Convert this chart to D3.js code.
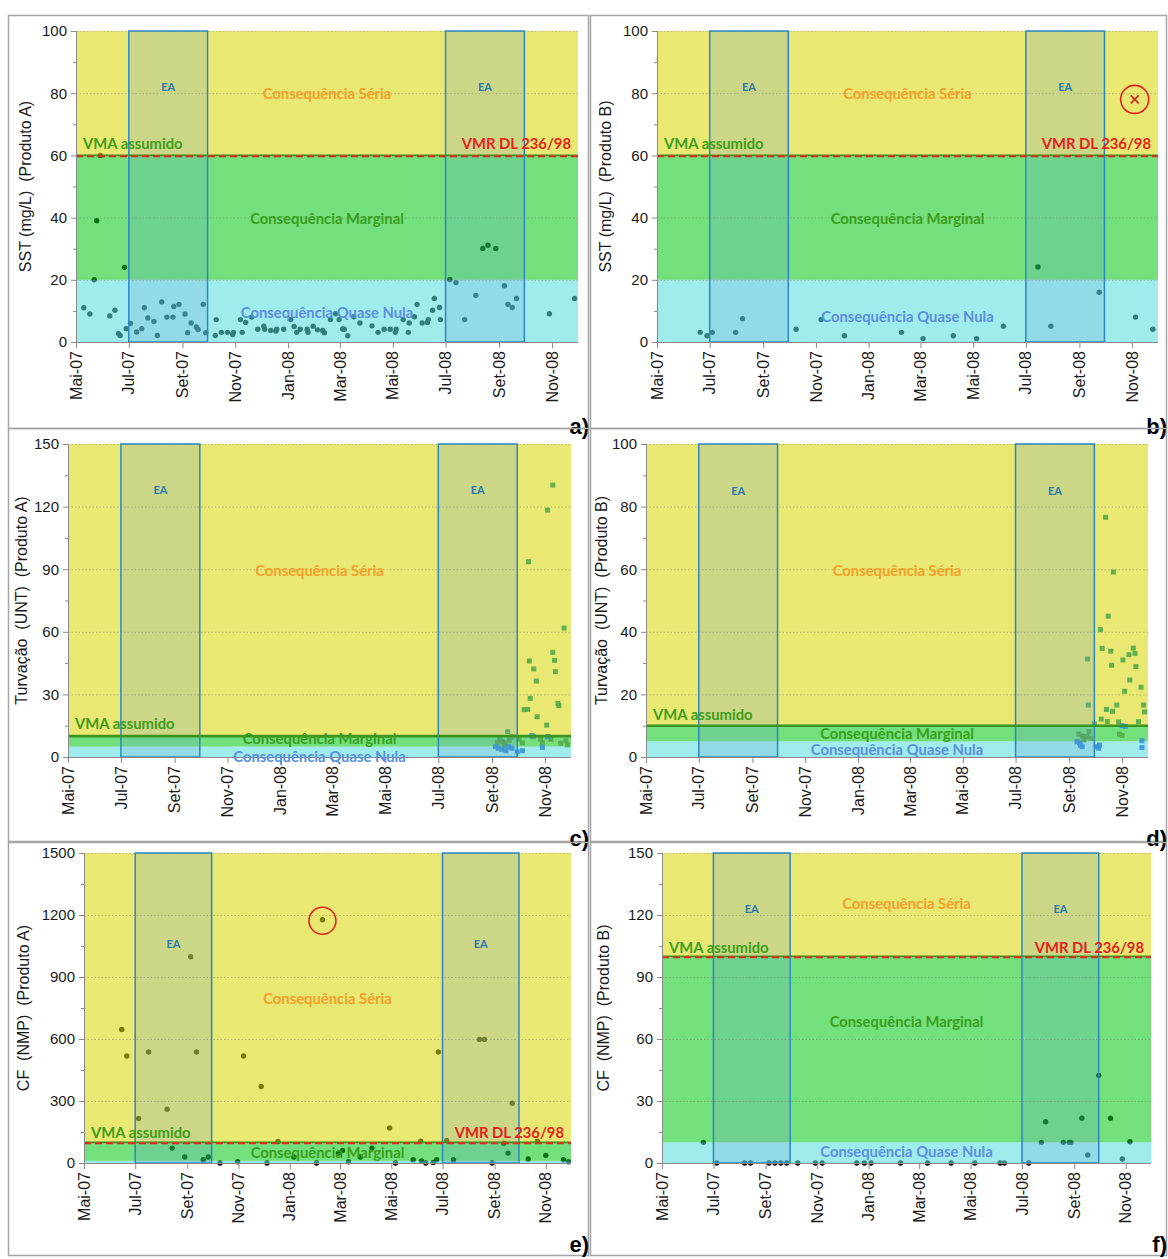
<!DOCTYPE html>
<html><head><meta charset="utf-8">
<script src="https://cdn.jsdelivr.net/npm/d3@7"></script>
<style>body{margin:0;background:#fff}svg{display:block}text{white-space:pre}</style>
</head><body>
<svg id="chart" width="1168" height="1259"></svg>
<script>
// ---------------- DATA ----------------
const tickDates  = ["2007-05-01","2007-07-01","2007-09-01","2007-11-01","2008-01-01","2008-03-01","2008-05-01","2008-07-01","2008-09-01","2008-11-01"];
const tickLabels = ["Mai-07","Jul-07","Set-07","Nov-07","Jan-08","Mar-08","Mai-08","Jul-08","Set-08","Nov-08"];
const eaStart = ["2007-07-01","2008-07-01"];
const eaEnd   = ["2007-09-30","2008-09-30"];
const zoneNames = ["Consequência Séria","Consequência Marginal","Consequência Quase Nula"];

const ticksSST  = [0,20,40,60,80,100];
const ticksTurbA = [0,30,60,90,120,150];
const ticksTurbB = [0,20,40,60,80,100];
const ticksCFA  = [0,300,600,900,1200,1500];
const ticksCFB  = [0,30,60,90,120,150];

const limitsSST  = [20,60];   // Quase Nula / Marginal / Séria
const limitsTurb = [5,10];
const limitsCF   = [10,100];

// a) SST Produto A
const sstA_dates = ["2007-05-10","2007-05-17","2007-05-22","2007-05-25","2007-05-29","2007-06-09","2007-06-15","2007-06-19","2007-06-21","2007-06-26","2007-06-28","2007-07-03","2007-07-10","2007-07-16","2007-07-19","2007-07-23","2007-07-30","2007-08-03","2007-08-08","2007-08-14","2007-08-21","2007-08-22","2007-08-28","2007-09-04","2007-09-07","2007-09-11","2007-09-17","2007-09-19","2007-09-25","2007-09-28","2007-10-09","2007-10-10","2007-10-16","2007-10-23","2007-10-29","2007-10-30","2007-11-07","2007-11-09","2007-11-13","2007-11-20","2007-11-27","2007-12-04","2007-12-05","2007-12-12","2007-12-18","2007-12-19","2007-12-27","2008-01-04","2008-01-08","2008-01-11","2008-01-15","2008-01-23","2008-01-24","2008-01-30","2008-02-04","2008-02-10","2008-02-12","2008-02-19","2008-02-25","2008-02-29","2008-03-04","2008-03-06","2008-03-10","2008-03-17","2008-03-24","2008-04-07","2008-04-14","2008-04-21","2008-04-28","2008-05-04","2008-05-05","2008-05-13","2008-05-19","2008-05-20","2008-05-26","2008-05-29","2008-06-04","2008-06-10","2008-06-11","2008-06-16","2008-06-18","2008-06-24","2008-06-25","2008-07-06","2008-07-13","2008-07-23","2008-08-05","2008-08-13","2008-08-19","2008-08-28","2008-09-07","2008-09-11","2008-09-16","2008-09-21","2008-10-29","2008-11-27"];
const sstA_values = [11,9,20,39,60,8.4,10.2,2.7,2.1,24,4.3,6,3.2,4.3,11,7.7,6.6,2.1,12.9,8,8,11.4,12.1,9,3,6.1,4.8,4,12.1,3,2.1,7.2,3.1,3.1,2.4,3.1,7.2,3.1,6.3,8,4.1,5.1,4.1,3.7,3.5,4.1,4.1,7.2,5,3.1,4.1,4.1,3.1,5.1,3.9,3.7,3,7.2,9.1,7.2,4.2,4.1,2,8.1,6.1,5.2,3.1,4.1,4.1,3.1,4.1,7.2,3.1,6.1,8.1,12.1,6.1,6.3,7.2,10.2,14,11.1,7.2,20.1,19.1,7.2,15,30.1,31.1,30.1,18.1,12.1,11.1,14,9.1,14];

// b) SST Produto B
const sstB_dates = ["2007-06-20","2007-06-28","2007-07-04","2007-07-31","2007-08-08","2007-10-09","2007-11-07","2007-12-04","2008-02-08","2008-03-04","2008-04-08","2008-05-05","2008-06-05","2008-07-15","2008-07-30","2008-09-24","2008-11-05","2008-11-25"];
const sstB_values = [3.1,2,3.1,3.1,7.5,4.1,7.2,2,3.1,1.1,2,1.1,5.1,24.1,5.1,16,8,4.1];
const sstB_outlierDate = ["2008-11-04"];
const sstB_outlierValue = [78];

// c) Turvação Produto A (two square series)
const turbA_g_dates = ["2008-11-10","2008-11-04","2008-10-13","2008-11-23","2008-11-10","2008-10-14","2008-11-12","2008-10-19","2008-11-13","2008-10-22","2008-10-15","2008-10-08","2008-10-12","2008-11-16","2008-11-17","2008-10-23","2008-11-03","2008-09-19","2008-09-10","2008-09-13","2008-09-16","2008-09-24","2008-10-02","2008-10-06","2008-10-17","2008-10-19","2008-10-27","2008-10-29","2008-11-05","2008-11-08","2008-11-19","2008-11-25","2008-11-27","2008-09-07","2008-09-15","2008-09-21"];
const turbA_g_values = [130.3,118.3,93.6,61.8,50.2,46,46.3,42.2,40.9,36.4,28.1,22.7,22.8,25.7,24.6,19.3,15.3,12.1,8.5,7.3,6.6,9.7,8.5,6.8,10.2,9.7,8.5,6.8,9.7,8.5,6.6,7.8,5.8,7,5.5,8];
const turbA_b_dates = ["2008-09-12","2008-09-20","2008-09-24","2008-09-30","2008-10-06","2008-10-17","2008-10-29","2008-11-04","2008-09-05","2008-09-08","2008-09-17"];
const turbA_b_values = [3.7,4.9,4.2,2.5,3.0,10,4.6,9.7,5,4.2,3];

// d) Turvação Produto B
const turbB_g_dates = ["2008-10-13","2008-10-22","2008-10-16","2008-10-07","2008-09-22","2008-10-09","2008-10-19","2008-10-20","2008-11-02","2008-11-09","2008-11-14","2008-11-16","2008-11-17","2008-11-10","2008-11-04","2008-11-23","2008-09-23","2008-11-26","2008-11-27","2008-10-14","2008-10-21","2008-10-26","2008-10-08","2008-10-15","2008-09-30","2008-10-28","2008-11-20","2008-09-12","2008-09-16","2008-09-21","2008-09-24","2008-10-29","2008-11-01","2008-09-18","2008-09-26"];
const turbB_g_values = [76.6,59.1,45,40.7,31.3,34.7,33.8,29.3,31,32.7,34.8,33.1,28.9,24.6,21,22.3,16.6,16.6,14.4,15.2,14.6,16.6,12.1,11.3,10.6,11.2,11.3,7.3,6.7,6.5,8.1,7.3,6.9,5.5,6];
const turbB_b_dates = ["2008-09-10","2008-09-14","2008-09-16","2008-10-03","2008-10-06","2008-10-05","2008-11-24","2008-11-24","2008-11-01","2008-11-05","2008-09-13"];
const turbB_b_values = [4.9,3.8,3.3,3.3,3.8,2.8,5.2,3,10,9.8,4.5];

// e) CF Produto A
const cfA_dates = ["2007-06-15","2007-06-21","2007-07-05","2007-07-17","2007-08-08","2007-08-14","2007-08-29","2007-09-05","2007-09-12","2007-09-20","2007-09-26","2007-10-10","2007-10-31","2007-11-07","2007-11-28","2007-12-05","2007-12-18","2008-01-06","2008-02-02","2008-02-09","2008-02-28","2008-03-04","2008-03-11","2008-03-25","2008-04-08","2008-04-29","2008-05-06","2008-05-27","2008-06-05","2008-06-06","2008-06-11","2008-06-20","2008-06-24","2008-06-26","2008-07-06","2008-07-14","2008-08-14","2008-08-20","2008-08-29","2008-09-12","2008-09-17","2008-09-22","2008-10-11","2008-10-22","2008-11-01","2008-11-22","2008-11-28"];
const cfA_values = [646,518,215,537,260,72,29,998,537,16,29,0,6,518,370,0,104,29,0,1177,48,61,6,29,72,169,0,16,106,10,0,3,16,537,109,16,598,598,0,96,48,289,19,106,37,16,6];
const cfA_circledDate = ["2008-02-09"];
const cfA_circledValue = [1177];

// f) CF Produto B
const cfB_dates = ["2007-06-19","2007-07-05","2007-08-07","2007-08-14","2007-09-05","2007-09-12","2007-09-19","2007-09-26","2007-10-09","2007-10-30","2007-11-07","2007-12-18","2007-12-27","2008-01-04","2008-02-08","2008-03-11","2008-04-08","2008-05-06","2008-06-05","2008-06-10","2008-07-09","2008-07-24","2008-07-29","2008-08-19","2008-08-26","2008-08-28","2008-09-10","2008-09-17","2008-09-30","2008-10-14","2008-10-28","2008-11-06"];
const cfB_values = [10,0,0,0,0,0,0,0,0,0,0,0,0,0,0,0,0,0,0,0,0,10,20,10,10,10,21.7,3.9,42.4,21.7,1.9,10.3];

// ---------------- DRAWING ----------------
const parse = d3.timeParse("%Y-%m-%d");
const xDomain = [parse("2007-05-01"), parse("2008-12-01")];
const svg = d3.select("#chart");
const AX = "'Liberation Sans', Arial, sans-serif";
const AN = "Lato, 'Open Sans', sans-serif";
const ANS = "14.8px";

const panels = [
  {tag:"a)", tagY:434, box:[8,15,588,428], plot:[76,31,578,342], ticks:ticksSST, limits:limitsSST, title:"SST (mg/L)  (Produto A)", titleX:31,
   dots:[sstA_dates,sstA_values], vmr:true, lab:{seria:80, marg:40, nula:9.5, ea:82, vma:64}},
  {tag:"b)", tagY:434, box:[590,15,1166,428], plot:[657,31,1158,342], ticks:ticksSST, limits:limitsSST, title:"SST (mg/L)  (Produto B)", titleX:611,
   dots:[sstB_dates,sstB_values], vmr:true, lab:{seria:80, marg:40, nula:8.4, ea:82, vma:64},
   crossed:[sstB_outlierDate,sstB_outlierValue]},
  {tag:"c)", tagY:846, box:[8,428,588,841], plot:[68,444,571,757], ticks:ticksTurbA, limits:limitsTurb, title:"Turvação  (UNT)  (Produto A)", titleX:27,
   squares:[[turbA_g_dates,turbA_g_values],[turbA_b_dates,turbA_b_values]], vmr:false, lab:{seria:89.6, marg:9.0, nula:0.6, ea:128, vma:16.4}},
  {tag:"d)", tagY:846, box:[590,428,1166,841], plot:[646,444,1148,757], ticks:ticksTurbB, limits:limitsTurb, title:"Turvação  (UNT)  (Produto B)", titleX:607,
   squares:[[turbB_g_dates,turbB_g_values],[turbB_b_dates,turbB_b_values]], vmr:false, lab:{seria:59.7, marg:7.8, nula:2.5, ea:85.3, vma:13.7}},
  {tag:"e)", tagY:1252, box:[8,842,588,1255], plot:[84,853,571,1163], ticks:ticksCFA, limits:limitsCF, title:"CF  (NMP)  (Produto A)", titleX:29,
   dots:[cfA_dates,cfA_values], vmr:true, lab:{seria:798, marg:53, nula:null, ea:1060, vma:150},
   circled:[cfA_circledDate,cfA_circledValue]},
  {tag:"f)", tagY:1252, box:[590,842,1166,1255], plot:[662,853,1151,1163], ticks:ticksCFB, limits:limitsCF, title:"CF  (NMP)  (Produto B)", titleX:609,
   dots:[cfB_dates,cfB_values], vmr:true, lab:{seria:126, marg:68.7, nula:5.8, ea:123, vma:104.5}}
];

function drawPanel(p){
  const g = svg.append("g");
  const [L,T,R,B] = p.plot;
  const yMax = p.ticks[p.ticks.length-1];
  const x = d3.scaleTime().domain(xDomain).range([L,R]);
  const y = d3.scaleLinear().domain([0,yMax]).range([B,T]);
  const [bx0,by0,bx1,by1] = p.box;

  // panel frame
  g.append("rect").attr("x",bx0+0.5).attr("y",by0+0.5).attr("width",bx1-bx0).attr("height",by1-by0)
    .attr("fill","none").attr("stroke","#a5a5a5").attr("stroke-width",1.5);

  // circle markers drawn first (zones are translucent on top)
  if (p.dots){
    g.append("g").selectAll("circle").data(d3.zip(p.dots[0],p.dots[1])).join("circle")
      .attr("cx",d=>x(parse(d[0]))).attr("cy",d=>y(d[1])).attr("r",2.7).attr("fill","#0a0f0a");
  }

  // consequence zones
  const zones = [[0,p.limits[0],"#52dcdc"],[p.limits[0],p.limits[1],"#00c713"],[p.limits[1],yMax,"#d5d500"]];
  g.append("g").selectAll("rect").data(zones).join("rect")
    .attr("x",L).attr("width",R-L).attr("y",d=>y(d[1])).attr("height",d=>y(d[0])-y(d[1]))
    .attr("fill",d=>d[2]).attr("opacity",0.55);

  // gridlines
  g.append("g").selectAll("line").data(p.ticks.filter(v=>v>0)).join("line")
    .attr("x1",L).attr("x2",R).attr("y1",d=>y(d)+0.5).attr("y2",d=>y(d)+0.5)
    .attr("stroke","#6e6e50").attr("stroke-opacity",0.4).attr("stroke-width",1).attr("stroke-dasharray","1.5,2");

  // square markers
  if (p.squares){
    const cols = ["#55ab4c","#3796d6"];
    p.squares.forEach((s,i)=>{
      g.append("g").selectAll("rect").data(d3.zip(s[0],s[1])).join("rect")
        .attr("x",d=>x(parse(d[0]))-2.5).attr("y",d=>y(d[1])-2.5).attr("width",5).attr("height",5)
        .attr("fill",cols[i]).attr("opacity",0.92);
    });
  }

  // EA boxes
  const ea = d3.zip(eaStart,eaEnd);
  g.append("g").selectAll("rect").data(ea).join("rect")
    .attr("x",d=>x(parse(d[0]))).attr("width",d=>x(parse(d[1]))-x(parse(d[0])))
    .attr("y",y(yMax)).attr("height",y(0)-y(yMax))
    .attr("fill","rgb(90,150,210)").attr("fill-opacity",0.2)
    .attr("stroke","#2d86c4").attr("stroke-width",1.5);
  g.append("g").selectAll("text").data(ea).join("text")
    .attr("x",d=>(x(parse(d[0]))+x(parse(d[1])))/2).attr("y",y(p.lab.ea))
    .attr("text-anchor","middle").attr("dominant-baseline","central")
    .style("font-family",AN).style("font-weight","bold").style("font-size","11px").attr("fill","#2a78b0").text("EA");

  // limit lines
  const yl = y(p.limits[1]);
  g.append("line").attr("x1",L).attr("x2",R).attr("y1",yl).attr("y2",yl)
    .attr("stroke","#3a9420").attr("stroke-width",p.vmr?1.6:2.6);
  if (p.vmr){
    g.append("line").attr("x1",L).attr("x2",R).attr("y1",yl+0.8).attr("y2",yl+0.8)
      .attr("stroke","#e4281c").attr("stroke-width",2).attr("stroke-dasharray","7,4");
  }

  // axes
  const axCol = "#8a8a8a";
  g.append("line").attr("x1",L).attr("x2",R).attr("y1",B+0.5).attr("y2",B+0.5).attr("stroke",axCol);
  g.append("line").attr("x1",L+0.5).attr("x2",L+0.5).attr("y1",T).attr("y2",B).attr("stroke",axCol);
  const xt = d3.zip(tickDates,tickLabels);
  g.append("g").selectAll("line").data(xt).join("line")
    .attr("x1",d=>x(parse(d[0]))+0.5).attr("x2",d=>x(parse(d[0]))+0.5).attr("y1",B).attr("y2",B+6).attr("stroke",axCol);
  g.append("g").selectAll("text").data(xt).join("text")
    .attr("transform",d=>`translate(${x(parse(d[0]))},${B+9}) rotate(-90)`)
    .attr("text-anchor","end").attr("dy","0.35em")
    .style("font-family",AX).style("font-size","16px").attr("fill","#1a1a1a").text(d=>d[1]);
  const step = p.ticks[1]-p.ticks[0];
  const minor = p.ticks.slice(0,-1).map(v=>v+step/2);
  g.append("g").selectAll("line").data(minor).join("line")
    .attr("x1",L-3).attr("x2",L).attr("y1",d=>y(d)+0.5).attr("y2",d=>y(d)+0.5).attr("stroke",axCol);
  g.append("g").selectAll("line").data(p.ticks).join("line")
    .attr("x1",L-5).attr("x2",L).attr("y1",d=>y(d)+0.5).attr("y2",d=>y(d)+0.5).attr("stroke",axCol);
  g.append("g").selectAll("text").data(p.ticks).join("text")
    .attr("x",L-9).attr("y",d=>y(d)).attr("dy","0.36em").attr("text-anchor","end")
    .style("font-family",AX).style("font-size","15px").attr("fill","#1a1a1a").text(d=>d);
  g.append("text").attr("transform",`translate(${p.titleX},${(T+B)/2}) rotate(-90)`)
    .attr("text-anchor","middle").style("font-family",AX).style("font-size","16px").attr("fill","#1a1a1a").text(p.title);

  // zone labels
  const cx = (L+R)/2;
  const zl = [[zoneNames[0],p.lab.seria,"#f5a02a"],[zoneNames[1],p.lab.marg,"#3a9e1c"],[zoneNames[2],p.lab.nula,"#5b8fe0"]].filter(d=>d[1]!==null);
  g.append("g").selectAll("text").data(zl).join("text")
    .attr("x",cx).attr("y",d=>y(d[1])).attr("text-anchor","middle").attr("dominant-baseline","central")
    .style("font-family",AN).style("font-weight","bold").style("font-size",ANS).attr("fill",d=>d[2]).text(d=>d[0]);
  g.append("text").attr("x",L+7).attr("y",y(p.lab.vma)).attr("dominant-baseline","central")
    .style("font-family",AN).style("font-weight","bold").style("font-size",ANS).attr("fill","#3c9e1a").text("VMA assumido");
  if (p.vmr){
    g.append("text").attr("x",R-7).attr("y",y(p.lab.vma)).attr("dominant-baseline","central").attr("text-anchor","end")
      .style("font-family",AN).style("font-weight","bold").style("font-size",ANS).attr("fill","#e4231c").text("VMR DL 236/98");
  }

  // annotations
  if (p.crossed){
    const d = d3.zip(p.crossed[0],p.crossed[1])[0];
    const px = x(parse(d[0])), py = y(d[1]);
    g.append("circle").attr("cx",px).attr("cy",py).attr("r",14).attr("fill","none").attr("stroke","#e4231c").attr("stroke-width",1.6);
    g.append("path").attr("d",`M${px-4},${py-4}L${px+4},${py+4}M${px+4},${py-4}L${px-4},${py+4}`).attr("stroke","#d8231c").attr("stroke-width",1.6);
  }
  if (p.circled){
    const d = d3.zip(p.circled[0],p.circled[1])[0];
    g.append("circle").attr("cx",x(parse(d[0]))).attr("cy",y(d[1])+1).attr("r",13.5).attr("fill","none").attr("stroke","#e4231c").attr("stroke-width",1.6);
  }

  // panel tag
  g.append("text").attr("x",bx1+1).attr("y",p.tagY).attr("text-anchor","end")
    .style("font-family",AX).style("font-weight","bold").style("font-size","22px").attr("fill","#000").text(p.tag);
}

panels.forEach(drawPanel);
</script>
</body></html>
